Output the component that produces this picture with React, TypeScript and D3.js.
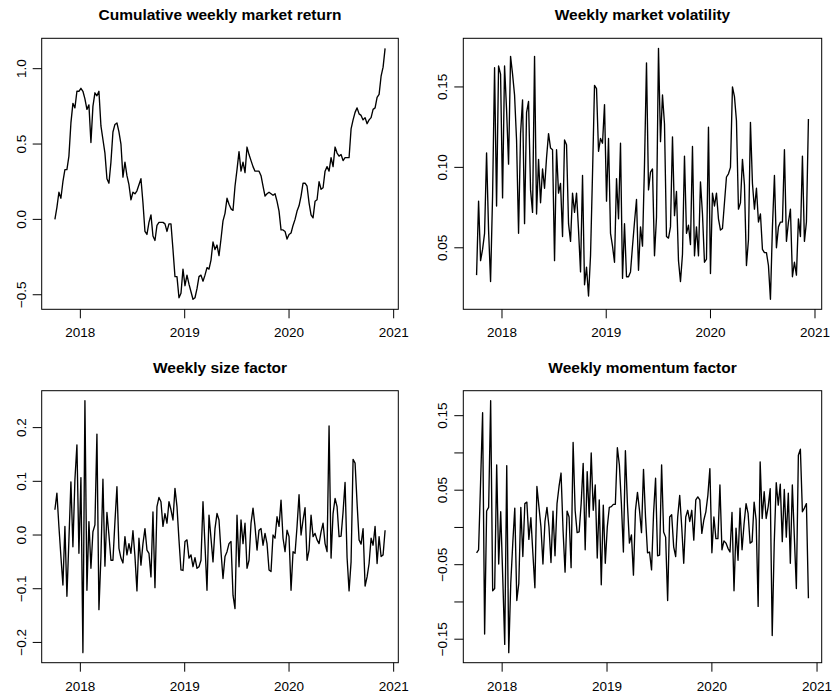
import React from "react";
import * as d3 from "d3";

// Weekly observations start on this date and are spaced seven days apart.
const START_DATE = new Date(2017, 9, 4);

const cumulativeReturn = [
  0.0, 0.08, 0.18, 0.14, 0.25, 0.33, 0.33, 0.42, 0.64, 0.77, 0.74, 0.85, 0.85, 0.87, 0.85, 0.8, 0.73, 0.76, 0.51, 0.75,
  0.84, 0.82, 0.85, 0.62, 0.53, 0.44, 0.27, 0.24, 0.38, 0.58, 0.63, 0.64, 0.58, 0.5, 0.28, 0.38, 0.29, 0.23, 0.13, 0.18,
  0.17, 0.19, 0.23, 0.27, 0.11, -0.08, -0.1, -0.02, 0.03, -0.11, -0.14, -0.04, -0.02, -0.02, -0.02, -0.03, -0.08, -0.03,
  -0.03, -0.2, -0.38, -0.38, -0.52, -0.49, -0.33, -0.44, -0.37, -0.43, -0.48, -0.53, -0.52, -0.46, -0.38, -0.37, -0.41,
  -0.37, -0.32, -0.33, -0.27, -0.15, -0.2, -0.17, -0.24, -0.13, -0.01, 0.04, 0.14, 0.1, 0.07,
  0.06, 0.22, 0.33, 0.45, 0.32, 0.38, 0.31, 0.48, 0.43, 0.39, 0.35, 0.32, 0.32, 0.32, 0.29, 0.22, 0.155, 0.17, 0.18, 0.17,
  0.16, 0.17, 0.12, 0.055, -0.07, -0.07, -0.08, -0.13, -0.1, -0.09, -0.04, 0.0, 0.055, 0.09, 0.155, 0.24, 0.24, 0.22, 0.11,
  0.03, 0.01, 0.12, 0.13, 0.25, 0.2, 0.21, 0.32, 0.35, 0.32, 0.41, 0.35, 0.48, 0.44, 0.42, 0.43, 0.39, 0.41, 0.41, 0.41,
  0.6, 0.66, 0.71, 0.74, 0.7, 0.69, 0.66, 0.675, 0.635, 0.66, 0.675, 0.73, 0.74, 0.81, 0.83, 0.95, 1.01, 1.135,
];

const marketVolatility = [
  0.033, 0.079, 0.042, 0.049, 0.059, 0.109, 0.061, 0.029, 0.082, 0.162, 0.076, 0.163, 0.158, 0.081, 0.163, 0.136, 0.102,
  0.169, 0.158, 0.145, 0.117, 0.059, 0.121, 0.142, 0.065, 0.134, 0.141, 0.086, 0.072, 0.169, 0.071, 0.105, 0.078, 0.099,
  0.087, 0.106, 0.121, 0.112, 0.111, 0.042, 0.111, 0.084, 0.09, 0.057, 0.117, 0.114, 0.065, 0.054, 0.084, 0.072, 0.084,
  0.061, 0.035, 0.095, 0.027, 0.038, 0.02, 0.045, 0.096, 0.151, 0.149, 0.11, 0.118, 0.115, 0.139, 0.079, 0.118, 0.059,
  0.051, 0.041, 0.093, 0.068, 0.115, 0.031, 0.065, 0.032, 0.032, 0.035, 0.051, 0.066, 0.08, 0.036, 0.063, 0.051,
  0.102, 0.165, 0.086, 0.097, 0.099, 0.045, 0.069, 0.174, 0.116, 0.145, 0.127, 0.057, 0.056, 0.063, 0.119, 0.07, 0.085,
  0.042, 0.029, 0.046, 0.107, 0.059, 0.064, 0.052, 0.113, 0.045, 0.063, 0.045, 0.091, 0.071, 0.041, 0.043, 0.125, 0.034,
  0.084, 0.076, 0.084, 0.068, 0.061, 0.062, 0.078, 0.094, 0.096, 0.1, 0.15, 0.144, 0.129, 0.074, 0.078, 0.105, 0.089,
  0.039, 0.055, 0.128, 0.09, 0.074, 0.087, 0.066, 0.071, 0.049, 0.047, 0.047, 0.039, 0.018, 0.063, 0.095, 0.05, 0.063,
  0.066, 0.066, 0.111, 0.054, 0.066, 0.074, 0.032, 0.041, 0.033, 0.068, 0.057, 0.107, 0.054, 0.066, 0.13,
];

const sizeFactor = [
  0.047, 0.078, 0.016, -0.04, -0.093, 0.016, -0.114, -0.009, 0.099, -0.022, 0.103, 0.168, -0.034, 0.107, -0.219, 0.25,
  -0.103, 0.025, -0.062, 0.006, 0.019, 0.188, -0.139, -0.04, 0.104, -0.058, 0.042, 0.0, -0.047, -0.047, 0.025, 0.09,
  -0.025, -0.043, -0.052, -0.003, -0.037, -0.016, -0.034, 0.008, -0.04, -0.104, -0.006, -0.056, -0.016, 0.012, -0.028,
  -0.034, -0.078, 0.043, -0.098, 0.053, 0.07, 0.062, 0.016, 0.04, 0.022, 0.062, 0.047, 0.028, 0.087, 0.053, -0.009,
  -0.065, -0.066, -0.012, -0.009, -0.043, -0.037, -0.059, -0.042, -0.062, -0.059, -0.047, 0.062, -0.019, -0.103, 0.037,
  -0.006, -0.05, 0.012, 0.04, 0.028, -0.031, -0.081, -0.04, -0.031, -0.016, -0.012,
  -0.112, -0.137, 0.037, -0.059, 0.028, -0.016, 0.022, -0.062, -0.047, 0.022, 0.05, 0.016, -0.028, 0.009, 0.012, -0.019,
  0.003, -0.016, -0.065, -0.068, 0.0, -0.006, 0.034, 0.016, 0.065, -0.006, -0.031, 0.009, -0.003, -0.103, -0.031, -0.034,
  0.016, 0.075, 0.0, 0.028, 0.051, -0.047, -0.028, 0.037, -0.003, 0.003, -0.009, -0.016, 0.006, 0.022, -0.016, -0.031,
  0.203, -0.043, 0.04, 0.068, 0.053, -0.003, -0.002, 0.043, 0.098, -0.042, -0.104, -0.05, 0.141, 0.134, 0.059, -0.009,
  -0.017, 0.012, -0.095, -0.078, -0.053, -0.006, -0.019, 0.016, -0.053, -0.003, -0.04, -0.037, 0.009,
];

const momentumFactor = [
  -0.034, -0.03, 0.061, 0.154, -0.143, 0.022, 0.027, 0.17, -0.085, -0.082, 0.084, -0.049, 0.021, -0.066, -0.157, 0.083,
  -0.168, -0.075, -0.021, 0.026, -0.098, -0.075, 0.027, -0.039, 0.032, 0.034, -0.016, 0.013, -0.035, -0.081, 0.055, 0.028,
  0.001, -0.049, 0.008, 0.027, 0.001, -0.047, 0.022, -0.038, 0.032, 0.055, 0.073, -0.004, -0.06, 0.022, 0.014, -0.054,
  0.114, 0.023, -0.007, -0.006, 0.032, 0.086, -0.03, 0.075, 0.014, 0.1, 0.023, 0.057, -0.041, 0.037, -0.077, 0.03, -0.048,
  0.001, 0.027, 0.028, 0.031, 0.031, 0.107, 0.084, 0.032, -0.033, 0.103, 0.032, -0.021, -0.01, -0.064, 0.023, 0.047, 0.023,
  -0.007,
  0.078, 0.014, -0.034, -0.033, -0.057, 0.019, 0.066, -0.038, -0.037, 0.084, -0.006, -0.013, -0.098, 0.014, 0.017, -0.026,
  -0.039, 0.014, 0.043, 0.001, -0.048, 0.014, 0.023, 0.008, 0.023, -0.017, 0.037, 0.041, 0.037, -0.008, 0.01, 0.021, 0.043,
  0.079, -0.034, 0.014, -0.015, -0.015, 0.057, -0.03, -0.018, -0.021, -0.028, -0.033, 0.02, -0.085, -0.001, -0.044, 0.026,
  -0.03, 0.005, 0.032, 0.019, -0.021, -0.019, 0.034, 0.01, -0.106, 0.088, 0.012, 0.048, 0.012, 0.028, 0.052, -0.145,
  -0.021, 0.06, 0.03, 0.058, -0.019, 0.051, -0.013, 0.046, -0.048, 0.057, -0.013, -0.082, 0.097, 0.105, 0.021, 0.026, 0.032,
  -0.095,
];

const yearTicks = [2018, 2019, 2020, 2021];
const yearLabels = ["2018", "2019", "2020", "2021"];

const returnTicks = [-0.5, 0, 0.5, 1.0];
const returnLabels = ["\u22120.5", "0.0", "0.5", "1.0"];
const volatilityTicks = [0.05, 0.1, 0.15];
const volatilityLabels = ["0.05", "0.10", "0.15"];
const sizeTicks = [-0.2, -0.1, 0, 0.1, 0.2];
const sizeLabels = ["\u22120.2", "\u22120.1", "0.0", "0.1", "0.2"];
const momentumTicks = [-0.15, -0.1, -0.05, 0, 0.05, 0.1, 0.15];
const momentumLabels = ["\u22120.15", "", "\u22120.05", "", "0.05", "", "0.15"];

const FONT = "'Liberation Sans', Arial, Helvetica, sans-serif";

type Box = { x0: number; x1: number; y0: number; y1: number };

type PanelProps = {
  title: string;
  values: number[];
  yTicks: number[];
  yLabels: string[];
  box: Box;
};

// Extend a numeric range by 4% on each side.
function padded(lo: number, hi: number): [number, number] {
  const p = (hi - lo) * 0.04;
  return [lo - p, hi + p];
}

function Panel({ title, values, yTicks, yLabels, box }: PanelProps) {
  const dates = values.map((_, i) => d3.timeDay.offset(START_DATE, 7 * i));
  const t0 = +dates[0];
  const t1 = +dates[dates.length - 1];
  const [d0, d1] = padded(t0, t1);
  const x = d3.scaleTime().domain([new Date(d0), new Date(d1)]).range([box.x0, box.x1]);
  const [lo, hi] = d3.extent(values) as [number, number];
  const y = d3.scaleLinear().domain(padded(lo, hi)).range([box.y1, box.y0]);

  const line = d3
    .line<number>()
    .x((_, i) => x(dates[i]))
    .y((v) => y(v));

  const tickLen = 9;
  const cx = (box.x0 + box.x1) / 2;

  return (
    <g>
      <text x={cx} y={box.y0 - 18} textAnchor="middle" fontFamily={FONT} fontWeight="bold" fontSize={15.5} fill="#000">
        {title}
      </text>
      <path d={line(values) || ""} fill="none" stroke="#000" strokeWidth={1.35} strokeLinejoin="round" />
      <rect x={box.x0} y={box.y0} width={box.x1 - box.x0} height={box.y1 - box.y0} fill="none" stroke="#000" strokeWidth={1} />
      {/* bottom time axis */}
      <g>
        {yearTicks.map((yr, i) => {
          const px = x(new Date(yr, 0, 1));
          return (
            <g key={yr}>
              <line x1={px} x2={px} y1={box.y1} y2={box.y1 + tickLen} stroke="#000" strokeWidth={1} />
              <text x={px} y={box.y1 + 28} textAnchor="middle" fontFamily={FONT} fontSize={13.5} fill="#000">
                {yearLabels[i]}
              </text>
            </g>
          );
        })}
      </g>
      {/* left value axis */}
      <g>
        {yTicks.map((v, i) => {
          const py = y(v);
          const lx = box.x0 - 21;
          return (
            <g key={v}>
              <line x1={box.x0 - tickLen} x2={box.x0} y1={py} y2={py} stroke="#000" strokeWidth={1} />
              {yLabels[i] ? (
                <text
                  transform={`translate(${lx},${py}) rotate(-90)`}
                  textAnchor="middle"
                  dy="0.36em"
                  fontFamily={FONT}
                  fontSize={13.5}
                  fill="#000"
                >
                  {yLabels[i]}
                </text>
              ) : null}
            </g>
          );
        })}
      </g>
    </g>
  );
}

export default function App() {
  const left = { x0: 41.7, x1: 398.3 };
  const right = { x0: 463.3, x1: 821.7 };
  const top = { y0: 38.3, y1: 309.3 };
  const bottom = { y0: 390.7, y1: 662.7 };
  return (
    <svg
      width={836}
      height={698}
      viewBox="0 0 836 698"
      style={{ position: "absolute", left: 0, top: 0, background: "#fff" }}
    >
      <rect width={836} height={698} fill="#fff" />
      <Panel
        title="Cumulative weekly market return"
        values={cumulativeReturn}
        yTicks={returnTicks}
        yLabels={returnLabels}
        box={{ ...left, ...top }}
      />
      <Panel
        title="Weekly market volatility"
        values={marketVolatility}
        yTicks={volatilityTicks}
        yLabels={volatilityLabels}
        box={{ ...right, ...top }}
      />
      <Panel
        title="Weekly size factor"
        values={sizeFactor}
        yTicks={sizeTicks}
        yLabels={sizeLabels}
        box={{ ...left, ...bottom }}
      />
      <Panel
        title="Weekly momentum factor"
        values={momentumFactor}
        yTicks={momentumTicks}
        yLabels={momentumLabels}
        box={{ ...right, ...bottom }}
      />
    </svg>
  );
}
